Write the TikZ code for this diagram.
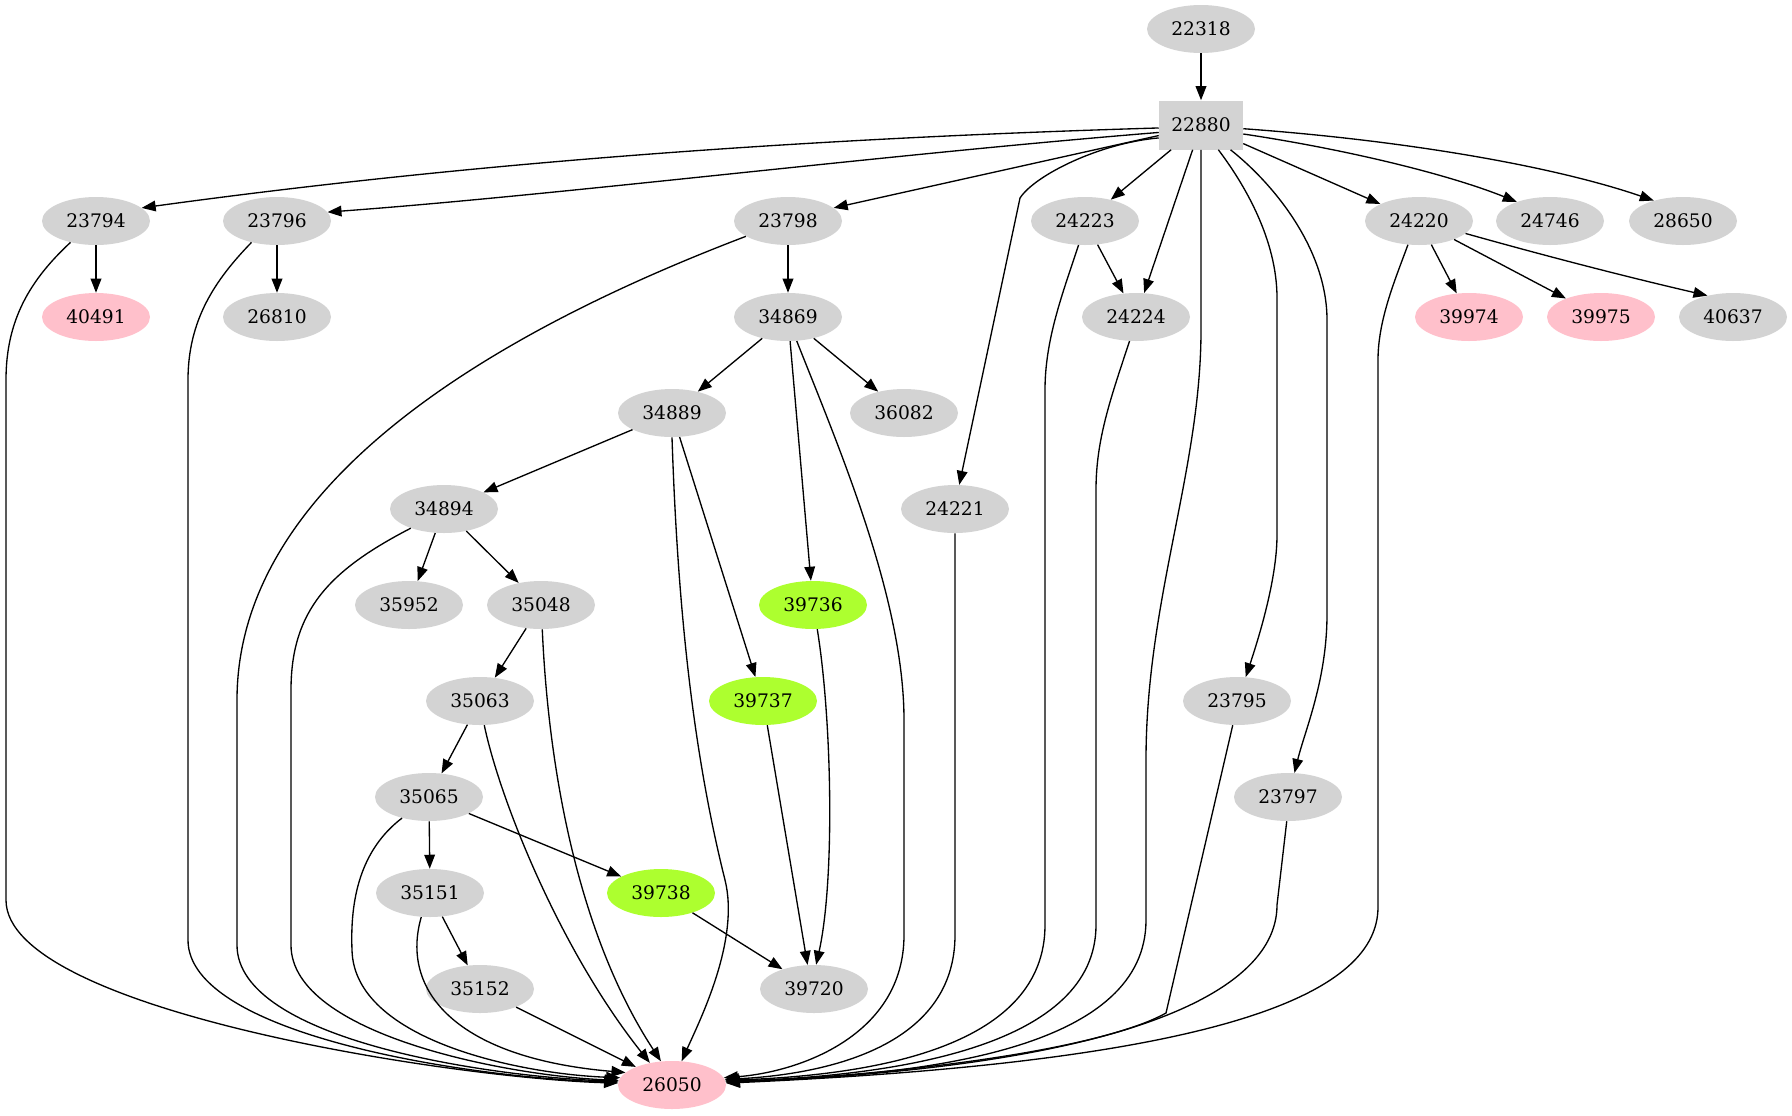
\documentclass[tikz,border=0pt]{standalone}
\usepackage{fontspec}
\setmainfont{DejaVu Serif}
\usetikzlibrary{shapes.geometric,arrows.meta}
\definecolor{ngray}{HTML}{D3D3D3}
\definecolor{npink}{HTML}{FFC0CB}
\definecolor{ngreen}{HTML}{ADFF2F}
\begin{document}
\begin{tikzpicture}[x=0.75pt,y=-0.75pt,
  el/.style={ellipse, fill=ngray, draw=none, minimum width=81pt, minimum height=36pt, inner sep=0pt, font=\fontsize{14pt}{16pt}\selectfont},
  pk/.style={el, fill=npink},
  gr/.style={el, fill=ngreen},
  bx/.style={rectangle, fill=ngray, draw=none, minimum width=63pt, minimum height=36.75pt, inner sep=0pt, font=\fontsize{14pt}{16pt}\selectfont},
  edge/.style={draw=black, line width=1pt, -{Triangle[length=10.5pt,width=8pt]}}]
\useasboundingbox (0,0) rectangle (1792,1115);
% nodes
\node[el] (n22318) at (1201,29) {22318};
\node[bx] (n22880) at (1201,125) {22880};
\node[el] (n23794) at (96,221) {23794};
\node[el] (n23796) at (277,221) {23796};
\node[el] (n23798) at (788,221) {23798};
\node[el] (n24223) at (1085,221) {24223};
\node[el] (n24220) at (1419,221) {24220};
\node[el] (n24746) at (1550,221) {24746};
\node[el] (n28650) at (1683,221) {28650};
\node[pk] (n40491) at (96,317) {40491};
\node[el] (n26810) at (277,317) {26810};
\node[el] (n34869) at (788,317) {34869};
\node[el] (n24224) at (1136,317) {24224};
\node[pk] (n39974) at (1469,317) {39974};
\node[pk] (n39975) at (1601,317) {39975};
\node[el] (n40637) at (1733,317) {40637};
\node[el] (n34889) at (672,413) {34889};
\node[el] (n36082) at (904,413) {36082};
\node[el] (n34894) at (444,509) {34894};
\node[el] (n24221) at (955,509) {24221};
\node[el] (n35952) at (409,605) {35952};
\node[el] (n35048) at (541,605) {35048};
\node[gr] (n39736) at (813,605) {39736};
\node[el] (n35063) at (480,701) {35063};
\node[gr] (n39737) at (763,701) {39737};
\node[el] (n23795) at (1237,701) {23795};
\node[el] (n35065) at (429,797) {35065};
\node[el] (n23797) at (1288,797) {23797};
\node[el] (n35151) at (430,893) {35151};
\node[gr] (n39738) at (661,893) {39738};
\node[el] (n35152) at (480,989) {35152};
\node[el] (n39720) at (814,989) {39720};
\node[pk] (n26050) at (672,1085) {26050};
% edges from 22318 / 22880
\draw[edge] (n22318) -- (n22880);
\draw[edge] (n22880.184) .. controls (819,138) and (483,161) .. (n23794.16);
\draw[edge] (n22880.190) .. controls (880,155) and (560,195) .. (n23796.10);
\draw[edge] (n22880.194) -- (n23798.16);
\draw[edge] (n22880.197) .. controls (1100,143) and (1035,175) .. (1020,198) -- (n24221.80);
\draw[edge] (n22880) -- (n24223);
\draw[edge] (n22880) -- (n24224);
\draw[edge] (n22880.south) -- (1201,330) .. controls (1201,470) and (1146,600) .. (1146,760) -- (1146,920) .. controls (1146,1045) and (940,1076) .. (n26050.4);
\draw[edge] (n22880.305) .. controls (1245,185) and (1277,240) .. (1277,298) -- (1277,535) .. controls (1277,580) and (1258,640) .. (n23795.70);
\draw[edge] (n22880.320) .. controls (1275,185) and (1327,250) .. (1327,320) -- (1327,614) .. controls (1327,680) and (1305,730) .. (n23797.75);
\draw[edge] (n22880) -- (n24220);
\draw[edge] (n22880.-12) .. controls (1350,150) and (1450,175) .. (n24746.150);
\draw[edge] (n22880.-5) .. controls (1400,140) and (1550,165) .. (n28650.145);
% second level
\draw[edge] (n23794) -- (n40491);
\draw[edge] (n23794.220) .. controls (30,280) and (6,320) .. (6,380) -- (6,900) .. controls (6,1010) and (450,1078) .. (n26050.178);
\draw[edge] (n23796) -- (n26810);
\draw[edge] (n23796.220) .. controls (215,280) and (188,320) .. (188,380) -- (188,940) .. controls (188,1035) and (470,1078) .. (n26050.177);
\draw[edge] (n23798) -- (n34869);
\draw[edge] (n23798.200) .. controls (500,330) and (237,480) .. (237,700) -- (237,945) .. controls (237,1040) and (490,1077) .. (n26050.176);
\draw[edge] (n24223) -- (n24224);
\draw[edge] (n24223.255) .. controls (1062,295) and (1045,340) .. (1045,390) -- (1045,925) .. controls (1045,1045) and (880,1075) .. (n26050.5);
\draw[edge] (n24224.255) .. controls (1110,400) and (1096,440) .. (1096,490) -- (1096,925) .. controls (1096,1045) and (900,1076) .. (n26050.4);
\draw[edge] (n24220) -- (n39974);
\draw[edge] (n24220) -- (n39975);
\draw[edge] (n24220.-15) .. controls (1560,260) and (1640,280) .. (n40637.140);
\draw[edge] (n24220.245) .. controls (1395,280) and (1378,320) .. (1378,360) -- (1378,907) .. controls (1378,1000) and (1200,1062) .. (n26050.2);
% 34869 subtree
\draw[edge] (n34869) -- (n34889);
\draw[edge] (n34869) -- (n36082);
\draw[edge] (n34869) -- (n39736);
\draw[edge] (n34869.290) .. controls (840,450) and (904,600) .. (904,720) -- (904,935) .. controls (904,1035) and (800,1072) .. (n26050.8);
\draw[edge] (n34889) -- (n34894);
\draw[edge] (n34889) -- (n39737);
\draw[edge] (n34889.south) .. controls (678,620) and (695,760) .. (725,880) .. controls (740,940) and (700,1020) .. (n26050.68);
\draw[edge] (n34894) -- (n35952);
\draw[edge] (n34894) -- (n35048);
\draw[edge] (n34894.210) .. controls (330,570) and (291,610) .. (291,690) -- (291,945) .. controls (291,1035) and (510,1076) .. (n26050.175);
\draw[edge] (n35048) -- (n35063);
\draw[edge] (n35048.273) .. controls (548,760) and (575,930) .. (n26050.115);
\draw[edge] (n35063) -- (n35065);
\draw[edge] (n35063.280) .. controls (500,800) and (560,950) .. (n26050.135);
\draw[edge] (n35065) -- (n35151);
\draw[edge] (n35065) -- (n39738);
\draw[edge] (n35065.218) .. controls (360,850) and (350,900) .. (352,950) .. controls (354,1040) and (520,1074) .. (n26050.172);
\draw[edge] (n35151) -- (n35152);
\draw[edge] (n35151.250) .. controls (400,990) and (455,1058) .. (n26050.165);
\draw[edge] (n35152) -- (n26050);
\draw[edge] (n39736.280) .. controls (832,720) and (835,880) .. (n39720.85);
\draw[edge] (n39737.280) -- (n39720.105);
\draw[edge] (n39738) -- (n39720);
\draw[edge] (n24221.south) -- (955,935) .. controls (955,1045) and (830,1074) .. (n26050.6);
\draw[edge] (n23795.260) -- (1166,1013) .. controls (1100,1050) and (900,1075) .. (n26050.3);
\draw[edge] (n23797.267) -- (1277,905) .. controls (1277,1000) and (1100,1068) .. (n26050.3);
\end{tikzpicture}
\end{document}
